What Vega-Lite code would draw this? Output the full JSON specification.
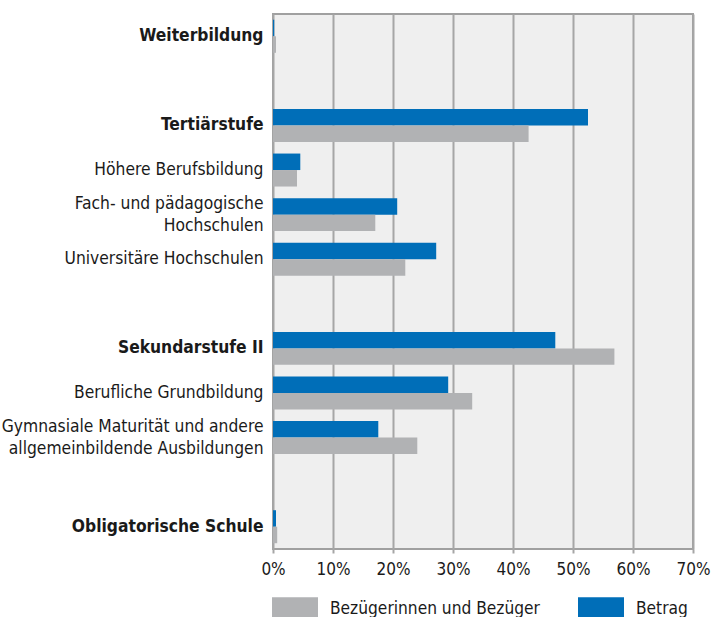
{
  "$schema": "https://vega.github.io/schema/vega-lite/v6.json",
  "autosize": "none",
  "width": 420,
  "height": 535,
  "padding": {"left": 273, "top": 14, "right": 20, "bottom": 68},
  "background": "white",
  "config": {
    "font": "DejaVu Sans Condensed",
    "view": {"fill": "#EFEFEF", "stroke": "#A0A0A0", "strokeWidth": 2}
  },
  "data": {
    "values": [
      {"cat": "Weiterbildung", "series": "Betrag", "value": 0.2},
      {"cat": "Weiterbildung", "series": "Bezügerinnen und Bezüger", "value": 0.5},
      {"cat": "Tertiärstufe", "series": "Betrag", "value": 52.5},
      {"cat": "Tertiärstufe", "series": "Bezügerinnen und Bezüger", "value": 42.6},
      {"cat": "Höhere Berufsbildung", "series": "Betrag", "value": 4.55},
      {"cat": "Höhere Berufsbildung", "series": "Bezügerinnen und Bezüger", "value": 4.0},
      {"cat": "Fach- und pädagogische|Hochschulen", "series": "Betrag", "value": 20.7},
      {"cat": "Fach- und pädagogische|Hochschulen", "series": "Bezügerinnen und Bezüger", "value": 17.05},
      {"cat": "Universitäre Hochschulen", "series": "Betrag", "value": 27.2},
      {"cat": "Universitäre Hochschulen", "series": "Bezügerinnen und Bezüger", "value": 22.05},
      {"cat": "Sekundarstufe II", "series": "Betrag", "value": 47.05},
      {"cat": "Sekundarstufe II", "series": "Bezügerinnen und Bezüger", "value": 56.9},
      {"cat": "Berufliche Grundbildung", "series": "Betrag", "value": 29.2},
      {"cat": "Berufliche Grundbildung", "series": "Bezügerinnen und Bezüger", "value": 33.2},
      {"cat": "Gymnasiale Maturität und andere|allgemeinbildende Ausbildungen", "series": "Betrag", "value": 17.55},
      {"cat": "Gymnasiale Maturität und andere|allgemeinbildende Ausbildungen", "series": "Bezügerinnen und Bezüger", "value": 24.05},
      {"cat": "Obligatorische Schule", "series": "Betrag", "value": 0.5},
      {"cat": "Obligatorische Schule", "series": "Bezügerinnen und Bezüger", "value": 0.7}
    ]
  },
  "mark": {"type": "bar"},
  "encoding": {
    "y": {
      "field": "cat",
      "type": "nominal",
      "title": null,
      "scale": {
        "domain": ["Weiterbildung", "b1", "Tertiärstufe", "Höhere Berufsbildung", "Fach- und pädagogische|Hochschulen", "Universitäre Hochschulen", "b2", "Sekundarstufe II", "Berufliche Grundbildung", "Gymnasiale Maturität und andere|allgemeinbildende Ausbildungen", "b3", "Obligatorische Schule"],
        "paddingInner": 0.26,
        "paddingOuter": 0.13
      },
      "axis": {
        "domain": false,
        "ticks": false,
        "grid": false,
        "labelPadding": 10,
        "labelFontSize": 17.3,
        "labelColor": "#1a1a1a",
        "labelLineHeight": 22,
        "labelLimit": 300,
        "labelExpr": "indexof(['b1','b2','b3'], datum.value) >= 0 ? '' : split(datum.value, '|')",
        "labelOffset": {
          "condition": {"test": "indexof(datum.value, '|') >= 0", "value": -11},
          "value": 0
        },
        "labelFontWeight": {
          "condition": {"test": "indexof(['Weiterbildung','Tertiärstufe','Sekundarstufe II','Obligatorische Schule'], datum.value) >= 0", "value": "bold"},
          "value": "normal"
        }
      }
    },
    "yOffset": {
      "field": "series",
      "type": "nominal",
      "scale": {"domain": ["Betrag", "Bezügerinnen und Bezüger"], "paddingInner": 0, "paddingOuter": 0}
    },
    "x": {
      "field": "value",
      "type": "quantitative",
      "title": null,
      "scale": {"domain": [0, 70], "nice": false, "zero": true},
      "axis": {
        "values": [0, 10, 20, 30, 40, 50, 60, 70],
        "labelExpr": "datum.value + '%'",
        "domain": false,
        "grid": true,
        "gridColor": "#A6A6A6",
        "gridWidth": 2,
        "gridOpacity": 1,
        "tickColor": "#A6A6A6",
        "tickWidth": 2,
        "tickSize": 4,
        "labelPadding": 8,
        "labelFontSize": 17,
        "labelColor": "#1a1a1a",
        "labelFlush": false
      }
    },
    "color": {
      "field": "series",
      "type": "nominal",
      "scale": {"domain": ["Bezügerinnen und Bezüger", "Betrag"], "range": ["#B1B2B4", "#006EB8"]},
      "legend": {
        "title": null,
        "orient": "none",
        "direction": "horizontal",
        "legendX": -1,
        "legendY": 571.5,
        "symbolType": "M-1,-0.5L1,-0.5L1,0.5L-1,0.5Z",
        "symbolSize": 2116,
        "symbolStrokeWidth": 0,
        "labelFontSize": 17.2,
        "labelColor": "#1a1a1a",
        "labelOffset": 12,
        "columnPadding": 38,
        "labelLimit": 400
      }
    }
  }
}
